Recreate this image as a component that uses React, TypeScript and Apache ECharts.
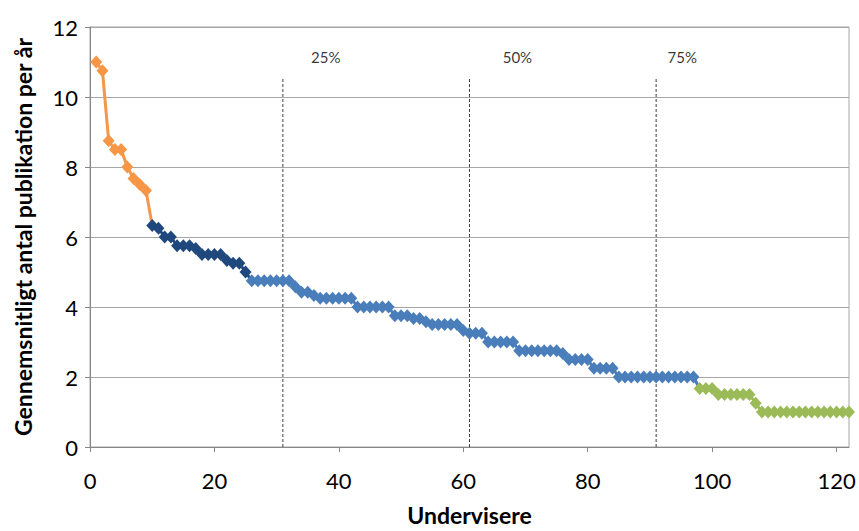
import React, { useEffect, useRef } from "react";
import * as echarts from "echarts";

// Average publications per year, sorted, split in four colour groups
const topGroup = [11, 10.75, 8.75, 8.5, 8.5, 8, 7.67, 7.5, 7.33];
const upperGroup = [6.33, 6.25, 6, 6, 5.75, 5.75, 5.75, 5.67, 5.5, 5.5, 5.5, 5.5, 5.33, 5.25, 5.25, 5];
const middleGroup = [
  4.75, 4.75, 4.75, 4.75, 4.75, 4.75, 4.75,
  4.58, 4.42, 4.42, 4.33,
  4.25, 4.25, 4.25, 4.25, 4.25, 4.25,
  4, 4, 4, 4, 4, 4,
  3.75, 3.75, 3.75,
  3.67, 3.67, 3.58,
  3.5, 3.5, 3.5, 3.5, 3.5,
  3.33, 3.25, 3.25, 3.25,
  3, 3, 3, 3, 3,
  2.75, 2.75, 2.75, 2.75, 2.75, 2.75, 2.75, 2.67,
  2.5, 2.5, 2.5, 2.5,
  2.25, 2.25, 2.25, 2.25,
  2, 2, 2, 2, 2, 2, 2, 2, 2, 2, 2, 2, 2,
];
const bottomGroup = [
  1.67, 1.67, 1.67,
  1.5, 1.5, 1.5, 1.5, 1.5, 1.5,
  1.25,
  1, 1, 1, 1, 1, 1, 1, 1, 1, 1, 1, 1, 1, 1, 1,
];
const groupColors = ["#F79646", "#1F497D", "#4A7EBB", "#9BBB59"];

const quartileX = [31, 61, 91];
const quartileLabels = ["25%", "50%", "75%"];
const yTicks = [0, 2, 4, 6, 8, 10, 12];
const xTicks = [0, 20, 40, 60, 80, 100, 120];

export default function App() {
  const ref = useRef<HTMLDivElement>(null);

  useEffect(() => {
    if (!ref.current) return;
    const chart = echarts.init(ref.current, null, { renderer: "svg" });

    const groups = [topGroup, upperGroup, middleGroup, bottomGroup];
    const starts: number[] = [];
    let acc = 1;
    groups.forEach((g) => {
      starts.push(acc);
      acc += g.length;
    });
    const xMax = acc - 1;

    const dataSeries: any[] = groups.map((g, gi) => {
      const pts: any[] = g.map((v, i) => [starts[gi] + i, v]);
      if (gi < groups.length - 1) {
        pts.push({ value: [starts[gi + 1], groups[gi + 1][0]], symbol: "none" });
      }
      return {
        type: "line",
        data: pts,
        symbol: "diamond",
        symbolSize: [12, 13],
        showAllSymbol: true,
        lineStyle: { color: groupColors[gi], width: 3 },
        itemStyle: { color: groupColors[gi] },
        z: 5 + gi,
      };
    });

    const quartileSeries: any[] = quartileX.map((x) => ({
      type: "line",
      data: [
        [x, 0],
        [x, 10.56],
      ],
      symbol: "none",
      lineStyle: { color: "#404040", width: 1, type: [3, 2] },
      z: 2,
      silent: true,
    }));

    const labelAnchorX = [37.9, 68.7, 95.2];
    const labelSeries = {
      type: "scatter",
      symbolSize: 1,
      itemStyle: { color: "rgba(0,0,0,0)" },
      silent: true,
      data: quartileLabels.map((t, i) => ({ name: t, value: [labelAnchorX[i], 11.15] })),
      label: {
        show: true,
        position: "inside",
        formatter: "{b}",
        fontFamily: "Lato",
        fontSize: 15,
        color: "#000",
      },
    };

    chart.setOption({
      animation: false,
      backgroundColor: "#fff",
      grid: {
        left: 90,
        right: 10,
        top: 27,
        bottom: 78,
        show: true,
        borderColor: "#a6a6a6",
        borderWidth: 1,
      },
      xAxis: {
        type: "value",
        min: 0,
        max: xMax,
        interval: 20,
        name: "Undervisere",
        nameLocation: "middle",
        nameGap: 56,
        nameTextStyle: { fontFamily: "Lato", fontWeight: "bold", fontSize: 23, color: "#000" },
        axisLine: { show: true, lineStyle: { color: "#868686", width: 1 } },
        axisTick: { show: true, length: 5, lineStyle: { color: "#868686" } },
        splitLine: { show: false },
        axisLabel: {
          margin: 22,
          fontFamily: "Lato",
          fontSize: 22,
          color: "#000",
          showMaxLabel: false,
          formatter: (v: number) => (xTicks.includes(v) ? String(v) : ""),
        },
      },
      yAxis: {
        type: "value",
        min: 0,
        max: 12,
        interval: 2,
        name: "Gennemsnitligt antal publikation per år",
        nameLocation: "middle",
        nameGap: 56,
        nameTextStyle: { fontFamily: "Lato", fontWeight: "bold", fontSize: 23, color: "#000" },
        axisLine: { show: true, lineStyle: { color: "#868686", width: 1 } },
        axisTick: { show: true, length: 5, lineStyle: { color: "#868686" } },
        splitLine: { show: true, lineStyle: { color: "#a6a6a6", width: 1 } },
        axisLabel: {
          margin: 12,
          fontFamily: "Lato",
          fontSize: 22,
          color: "#000",
          formatter: (v: number) => (yTicks.includes(v) ? String(v) : ""),
        },
      },
      series: [...quartileSeries, ...dataSeries, labelSeries],
    });

    return () => chart.dispose();
  }, []);

  return (
    <div
      ref={ref}
      style={{ position: "fixed", left: 0, top: 0, width: 859, height: 531, background: "#fff" }}
    />
  );
}
